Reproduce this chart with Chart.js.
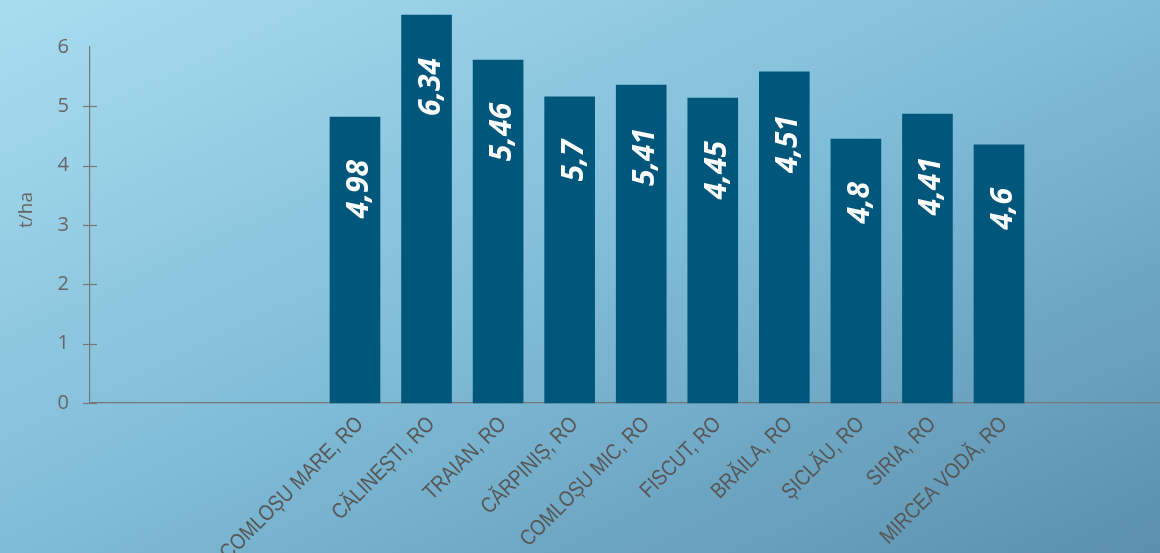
<!DOCTYPE html>
<html><head><meta charset="utf-8">
<script src="https://cdn.jsdelivr.net/npm/chart.js@4"></script>
<style>
html,body{margin:0;padding:0;}
body{width:1160px;height:553px;overflow:hidden;background:linear-gradient(to bottom right,#a8ddef 0%,#7fbcd7 50%,#5a8fae 100%);}
#wrap{position:relative;width:1160px;height:553px;}
</style></head><body>
<div id="wrap"><canvas id="c" width="1160" height="553"></canvas></div>
<script>
const categories = ['COMLOȘU MARE, RO','CĂLINEȘTI, RO','TRAIAN, RO','CĂRPINIȘ, RO','COMLOȘU MIC, RO','FISCUT, RO','BRĂILA, RO','ȘICLĂU, RO','SIRIA, RO','MIRCEA VODĂ, RO'];
const yields = [4.82, 6.54, 5.78, 5.16, 5.36, 5.14, 5.58, 4.45, 4.87, 4.35];
const valueLabels = ['4,98','6,34','5,46','5,7','5,41','4,45','4,51','4,8','4,41','4,6'];
const yTickValues = [0,1,2,3,4,5,6];
const yTitle = 't/ha';

const AXIS = '#777777';
const TEXT = '#666666';
const CAT_TEXT = '#575757';

const crossTicks = {
  id:'crossTicks',
  afterDraw(chart){
    const y = chart.scales.y, ctx = chart.ctx, x0 = chart.chartArea.left;
    ctx.save();
    ctx.strokeStyle = AXIS; ctx.lineWidth = 1.2;
    yTickValues.slice(0, -1).forEach(v=>{
      const py = Math.round(y.getPixelForValue(v)) + 0.5;
      ctx.beginPath(); ctx.moveTo(x0-7, py); ctx.lineTo(x0+7, py); ctx.stroke();
    });
    ctx.translate(27, 210);
    ctx.rotate(-Math.PI/2);
    ctx.fillStyle = TEXT;
    ctx.font = '19px "Open Sans"';
    ctx.textAlign = 'center'; ctx.textBaseline = 'middle';
    ctx.fillText(yTitle, 0, 0);
    ctx.restore();
  }
};

// category labels: condensed look via horizontal compression along the text direction
const catLabels = {
  id:'catLabels',
  afterDraw(chart){
    const xs = chart.scales.x, ctx = chart.ctx, base = chart.chartArea.bottom;
    ctx.save();
    ctx.fillStyle = CAT_TEXT;
    ctx.font = '22px "Liberation Sans"';
    ctx.textAlign = 'right'; ctx.textBaseline = 'middle';
    categories.forEach((c,i)=>{
      const px = xs.getPixelForValue(i);
      ctx.save();
      ctx.translate(px + 5, base + 18);
      ctx.rotate(-Math.PI/4);
      ctx.scale(0.85, 1);
      ctx.fillText(c, 0, 0);
      ctx.restore();
    });
    ctx.restore();
  }
};

const barLabels = {
  id:'barLabels',
  afterDatasetsDraw(chart){
    const ctx = chart.ctx;
    const meta = chart.getDatasetMeta(0);
    ctx.save();
    ctx.fillStyle = '#ffffff';
    ctx.font = 'italic bold 30px "Open Sans"';
    meta.data.forEach((bar,i)=>{
      ctx.save();
      ctx.translate(bar.x + 13, bar.y + 43);
      ctx.rotate(-Math.PI/2);
      ctx.textAlign = 'right';
      ctx.textBaseline = 'alphabetic';
      ctx.fillText(valueLabels[i], 0, 0);
      ctx.restore();
    });
    ctx.restore();
  }
};

new Chart(document.getElementById('c'), {
  type:'bar',
  data:{
    datasets:[{
      data: yields.map((v,i)=>({x:i, y:v})),
      backgroundColor:'#01577b',
      barThickness:50,
      borderWidth:0,
      clip:false
    }]
  },
  options:{
    responsive:false,
    animation:false,
    layout:{padding:{top:47, left:0, right:0, bottom:0}},
    plugins:{legend:{display:false}, tooltip:{enabled:false}},
    scales:{
      x:{
        type:'linear',
        offset:false,
        min:-3.703,
        max:11.25,
        grid:{display:false},
        border:{display:true, color:AXIS, width:1.2},
        afterBuildTicks(scale){ scale.ticks = categories.map((c,i)=>({value:i})); },
        afterFit(scale){ scale.height = 150; },
        ticks:{ display:false, autoSkip:false, callback:(v)=>categories[v] ?? '' }
      },
      y:{
        min:0, max:6,
        afterBuildTicks(scale){ scale.ticks = yTickValues.map(v=>({value:v})); },
        afterFit(scale){ scale.width = 90; },
        grid:{display:false},
        border:{display:true, color:AXIS, width:1.2},
        ticks:{
          padding:13,
          color:TEXT,
          font:{family:'"Open Sans", sans-serif', size:20},
          callback:(v)=>String(v)
        }
      }
    }
  },
  plugins:[crossTicks, catLabels, barLabels]
});
</script>
</body></html>
